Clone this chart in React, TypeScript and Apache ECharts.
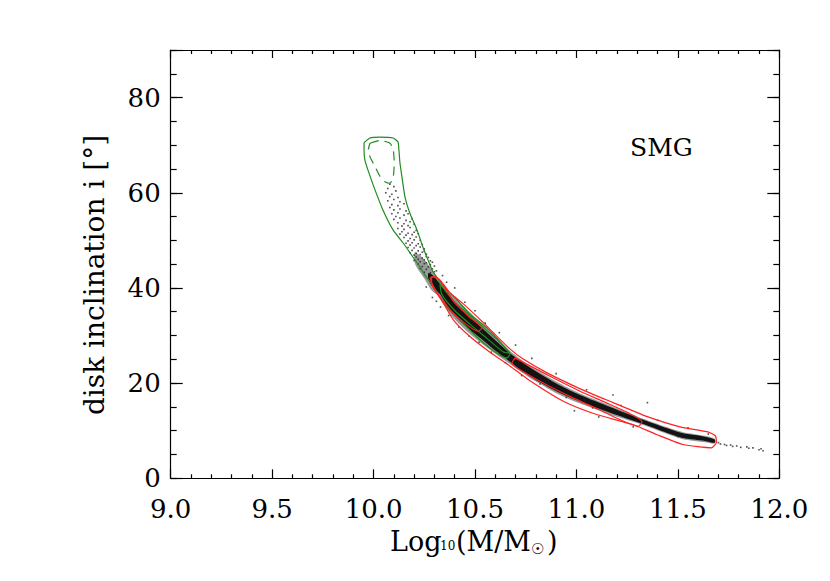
import React, { useEffect, useRef } from 'react';
import * as echarts from 'echarts';

// ---------- data ----------
const xTickLabels = ['9.0', '9.5', '10.0', '10.5', '11.0', '11.5', '12.0'];
const yTickLabels = ['0', '20', '40', '60', '80'];

// broad (lighter) part of the dense ridge of points: x, upper and lower inclination
const haloX = [10.204, 10.253, 10.288, 10.327, 10.376, 10.425, 10.475, 10.539, 10.598, 10.672, 10.771, 10.919, 11.018, 11.166, 11.329, 11.462, 11.526, 11.633, 11.682];
const haloUpper = [47.5, 45.8, 43.8, 41.6, 39.0, 37.0, 34.9, 32.3, 29.9, 26.8, 23.6, 19.9, 17.8, 15.3, 12.5, 10.5, 9.7, 8.95, 8.3];
const haloLower = [45.1, 41.8, 39.4, 38.0, 34.6, 32.3, 30.3, 28.1, 26.2, 24.0, 21.1, 17.5, 15.7, 13.4, 11.2, 9.1, 8.2, 7.55, 7.3];

// dense core of the ridge
const coreX = [10.27, 10.288, 10.327, 10.376, 10.425, 10.475, 10.539, 10.598, 10.672, 10.771, 10.919, 11.018, 11.166, 11.329, 11.462, 11.526, 11.633, 11.682];
const coreUpper = [43.1, 42.8, 40.9, 38.2, 36.0, 33.9, 31.4, 29.1, 26.3, 23.3, 19.5, 17.5, 15.0, 12.3, 10.3, 9.45, 8.75, 8.15];
const coreLower = [41.9, 40.4, 38.7, 35.4, 33.2, 31.2, 29.0, 26.9, 24.5, 21.4, 17.9, 16.1, 13.8, 11.4, 9.3, 8.45, 7.85, 7.45];

// sparse points in the upper part
const sparseDots: [number, number][] = [
  [10.08, 61.8], [10.10, 61.3], [10.07, 60.9],
  [10.06, 60.0], [10.09, 59.7], [10.11, 60.4], [10.08, 59.2], [10.12, 59.0],
  [10.07, 58.3], [10.10, 58.6], [10.13, 58.1], [10.09, 57.5], [10.12, 57.3], [10.15, 57.7], [10.08, 56.9],
  [10.10, 56.4], [10.13, 56.6], [10.16, 56.2], [10.09, 55.6], [10.12, 55.8], [10.15, 55.3], [10.17, 55.6], [10.11, 55.0],
  [10.10, 54.4], [10.13, 54.7], [10.16, 54.2], [10.19, 54.5], [10.12, 53.7], [10.15, 53.5], [10.18, 53.9], [10.14, 53.0],
  [10.17, 53.1], [10.20, 53.4],
  [10.12, 52.5], [10.15, 52.3], [10.18, 52.7], [10.21, 52.1], [10.14, 51.8], [10.17, 51.5], [10.20, 51.7], [10.16, 51.1],
  [10.19, 51.2], [10.22, 51.4], [10.13, 51.3],
  [10.15, 50.6], [10.18, 50.4], [10.21, 50.7], [10.17, 49.9], [10.20, 50.1], [10.23, 50.0], [10.16, 49.4], [10.19, 49.5],
  [10.22, 49.3], [10.18, 49.0], [10.21, 48.9], [10.24, 49.1],
  [10.17, 48.5], [10.20, 48.4], [10.23, 48.6], [10.25, 48.2], [10.19, 47.9], [10.22, 47.8], [10.25, 47.7], [10.18, 47.4],
  [10.21, 47.3], [10.24, 47.5], [10.26, 47.1], [10.20, 46.9], [10.23, 47.0], [10.26, 46.6],
  [10.21, 46.5], [10.24, 46.3], [10.27, 46.4], [10.22, 46.0], [10.25, 45.9], [10.28, 45.7], [10.20, 45.8], [10.23, 45.5],
  [10.26, 45.3], [10.29, 45.4], [10.22, 45.0], [10.25, 45.1], [10.28, 44.9], [10.24, 44.5], [10.27, 44.4], [10.30, 44.6],
  [10.23, 44.1], [10.26, 43.9], [10.29, 44.0], [10.31, 43.6], [10.25, 43.3], [10.28, 43.2],
];

// scattered points around the ridge
const strayDots: [number, number][] = [
  [10.26, 40.2], [10.29, 38.0], [10.31, 37.2], [10.30, 43.4], [10.34, 42.6], [10.36, 41.2], [10.33, 36.0],
  [10.37, 34.2], [10.40, 40.0], [10.42, 31.8], [10.45, 37.0], [10.47, 29.9], [10.50, 35.2], [10.52, 28.6], [10.55, 32.6],
  [10.58, 26.5], [10.62, 30.6], [10.65, 24.3], [10.70, 28.0], [10.73, 21.6], [10.78, 25.2], [10.82, 19.8], [10.90, 22.0],
  [10.95, 17.0], [11.05, 18.6], [11.08, 14.8], [11.18, 17.5], [11.35, 15.9], [10.99, 14.2], [11.11, 12.9], [11.22, 15.3],
  [11.28, 10.8], [11.40, 12.2], [11.50, 8.8], [11.55, 10.6], [11.65, 9.3], [11.04, 16.4],
];

// thin tail at high mass
const tailDots: [number, number][] = [
  [11.70, 7.5], [11.71, 7.2], [11.73, 7.1], [11.74, 6.9], [11.76, 7.0], [11.77, 6.7], [11.79, 6.8], [11.81, 6.5],
  [11.84, 6.6], [11.85, 6.3], [11.87, 6.4], [11.90, 6.0], [11.92, 5.8], [11.91, 6.2],
];

// contours
const greenOuter: [number, number][] = [
  [9.953, 70.5], [9.982, 71.5], [10.032, 71.7], [10.096, 71.5], [10.120, 70.7], [10.125, 69.0], [10.130, 66.3], [10.140, 63.3],
  [10.155, 59.1], [10.179, 55.7], [10.214, 52.2], [10.243, 48.6], [10.268, 45.9], [10.293, 43.4], [10.352, 40.0], [10.411, 37.5],
  [10.475, 34.5], [10.559, 31.6], [10.638, 28.0], [10.672, 26.1], [10.657, 25.3], [10.608, 26.3], [10.524, 29.1], [10.440, 32.6],
  [10.352, 36.4], [10.288, 40.8], [10.253, 42.7], [10.229, 44.4], [10.194, 46.5], [10.145, 49.5], [10.096, 52.2], [10.046, 56.4],
  [10.007, 60.6], [9.972, 64.8], [9.957, 66.9], [9.953, 69.0], [9.953, 70.5],
];
const greenDashed: [number, number][] = [
  [9.982, 70.4], [10.032, 71.0], [10.081, 70.4], [10.097, 69.0], [10.102, 66.2], [10.097, 63.4], [10.081, 62.0], [10.056, 62.3],
  [10.032, 63.4], [10.007, 65.5], [9.982, 67.6], [9.974, 69.0], [9.982, 70.4],
];
const greenInner: [number, number][] = [
  [10.327, 40.8], [10.401, 37.0], [10.475, 34.2], [10.549, 31.4], [10.623, 28.6], [10.672, 26.3], [10.638, 26.6], [10.559, 29.4],
  [10.475, 32.4], [10.401, 35.2], [10.337, 38.6], [10.327, 40.8],
];
const redOuter: [number, number][] = [
  [10.286, 42.4], [10.327, 41.7], [10.376, 39.0], [10.441, 36.7], [10.539, 32.8], [10.588, 30.7], [10.672, 27.2], [10.736, 25.1],
  [10.853, 22.2], [11.019, 18.8], [11.181, 15.9], [11.346, 13.0], [11.511, 10.8], [11.642, 9.8], [11.683, 9.0], [11.690, 7.6],
  [11.666, 6.4], [11.526, 7.1], [11.395, 9.2], [11.278, 11.3], [11.100, 13.4], [10.935, 16.2], [10.771, 20.5], [10.672, 23.6],
  [10.574, 26.5], [10.475, 29.8], [10.393, 33.3], [10.344, 36.8], [10.303, 39.5], [10.286, 41.3], [10.286, 42.4],
];
const redInnerA: [number, number][] = [
  [10.278, 42.2], [10.307, 42.4], [10.357, 39.6], [10.401, 36.8], [10.475, 33.8], [10.534, 31.6], [10.515, 30.9], [10.455, 32.4],
  [10.386, 35.0], [10.337, 37.6], [10.293, 40.2], [10.278, 42.2],
];
const redInnerB: [number, number][] = [
  [10.697, 25.3], [10.795, 23.1], [10.894, 20.9], [11.017, 18.3], [11.140, 16.0], [11.254, 13.8], [11.323, 11.9], [11.304, 10.9],
  [11.215, 12.3], [11.107, 14.5], [10.978, 17.0], [10.869, 19.3], [10.761, 21.8], [10.682, 24.2], [10.697, 25.3],
];

// ---------- chart ----------
const FONT = '"DejaVu Serif", "Liberation Serif", serif';
const GREEN = '#1f8c1f';
const RED = '#ff2222';

function bandSeries(xs: number[], up: number[], lo: number[], fill: string, z: number) {
  const pts = xs.map((x, i) => [x, up[i]]).concat(xs.map((x, i) => [x, lo[i]]).reverse());
  return {
    type: 'custom',
    xAxisIndex: 0,
    yAxisIndex: 0,
    silent: true,
    clip: true,
    z,
    data: [[xs[0], up[0]]],
    renderItem: (_p: any, api: any) => ({
      type: 'polygon',
      shape: { points: pts.map((p) => api.coord(p)), smooth: 0.25 },
      style: { fill },
    }),
  };
}

function contour(data: [number, number][], color: string, dashed = false) {
  return {
    type: 'line',
    xAxisIndex: 0,
    yAxisIndex: 0,
    data,
    symbol: 'none',
    silent: true,
    smooth: 0.2,
    z: 6,
    lineStyle: { color, width: 1.2, type: dashed ? [9, 6] : 'solid' },
  };
}

export default function App() {
  const ref = useRef<HTMLDivElement>(null);
  useEffect(() => {
    if (!ref.current) return;
    const chart = echarts.init(ref.current, undefined, { renderer: 'svg' });
    const black = { color: '#000', width: 1.2 };
    const xLabel = (v: number) => {
      const i = Math.round((v - 9) / 0.5);
      return xTickLabels[i] ?? '';
    };
    const yLabel = (v: number) => {
      const i = Math.round(v / 20);
      return v % 20 === 0 && yTickLabels[i] !== undefined ? yTickLabels[i] : '';
    };
    const xBase = {
      type: 'value', min: 9, max: 12, interval: 0.5,
      axisLine: { show: true, onZero: false, lineStyle: black },
      axisTick: { show: true, inside: true, length: 9, lineStyle: black },
      minorTick: { show: true, splitNumber: 5, length: 4, lineStyle: black },
      splitLine: { show: false }, minorSplitLine: { show: false },
    };
    const yMajor = {
      type: 'value', min: 0, max: 90, interval: 20,
      axisLine: { show: true, onZero: false, lineStyle: black },
      axisTick: { show: true, inside: true, length: 12, lineStyle: black },
      splitLine: { show: false },
    };
    const yMinor = {
      type: 'value', min: 0, max: 90, interval: 5,
      axisLine: { show: false, onZero: false },
      axisTick: { show: true, inside: true, length: 6, lineStyle: black },
      axisLabel: { show: false },
      splitLine: { show: false },
    };
    const txt = (text: string, x: number, y: number, fontSize: number) => ({
      type: 'text', x, y, silent: true,
      style: { text, fontFamily: FONT, fontSize, fill: '#000', align: 'left', verticalAlign: 'middle' },
    });
    chart.setOption({
      animation: false,
      backgroundColor: '#fff',
      grid: { left: 170.7, right: 50.7, top: 50, bottom: 102.7, containLabel: false },
      xAxis: [
        { ...xBase, position: 'bottom',
          axisLabel: { show: true, formatter: xLabel, fontFamily: FONT, fontSize: 26, color: '#000', margin: 18 } },
        { ...xBase, position: 'top', axisTick: { ...xBase.axisTick, length: 8 }, axisLabel: { show: false } },
      ],
      yAxis: [
        { ...yMajor, position: 'left',
          axisLabel: { show: true, formatter: yLabel, fontFamily: FONT, fontSize: 26, color: '#000', margin: 10 } },
        { ...yMinor, position: 'left' },
        { ...yMajor, position: 'right', axisLabel: { show: false } },
        { ...yMinor, position: 'right' },
      ],
      series: [
        bandSeries(haloX, haloUpper, haloLower, 'rgba(0,0,0,0.4)', 2),
        bandSeries(coreX, coreUpper, coreLower, 'rgba(0,0,0,0.88)', 3),
        {
          type: 'scatter', xAxisIndex: 0, yAxisIndex: 0, silent: true, z: 4,
          data: [...sparseDots, ...strayDots, ...tailDots],
          symbol: 'rect', symbolSize: 1.6, itemStyle: { color: '#222' },
        },
        contour(greenOuter, GREEN),
        contour(greenDashed, GREEN, true),
        contour(greenInner, GREEN),
        contour(redOuter, RED),
        contour(redInnerA, RED),
        contour(redInnerB, RED),
      ],
      graphic: [
        { type: 'text', x: 630, y: 147, silent: true,
          style: { text: 'SMG', fontFamily: FONT, fontSize: 25, fill: '#000', align: 'left', verticalAlign: 'middle' } },
        { type: 'text', x: 94, y: 275, rotation: Math.PI / 2, silent: true,
          style: { text: 'disk inclination i [°]', fontFamily: FONT, fontSize: 28, fill: '#000', align: 'center', verticalAlign: 'middle' } },
        txt('Log', 390, 541, 27),
        txt('10', 440, 545.5, 12),
        txt('(M/M', 456, 541, 27),
        txt('☉', 531, 549, 15),
        txt(')', 547, 541, 27),
      ],
    });
    return () => chart.dispose();
  }, []);
  return <div ref={ref} style={{ position: 'absolute', left: 0, top: 0, width: 830, height: 581 }} />;
}
